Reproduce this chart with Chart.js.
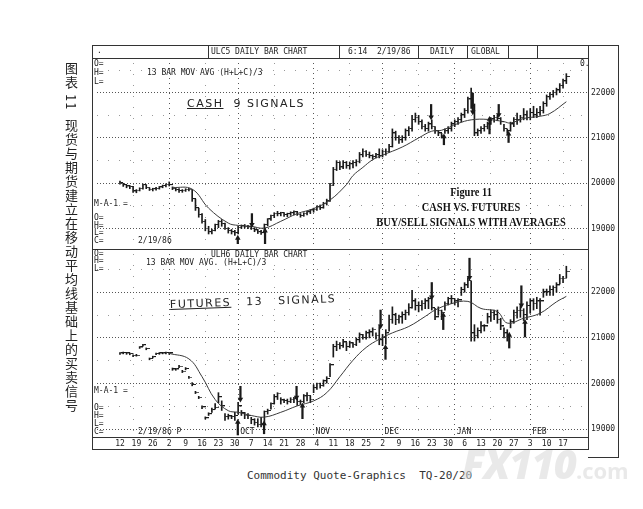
<!DOCTYPE html>
<html><head><meta charset="utf-8">
<script src="https://cdn.jsdelivr.net/npm/chart.js@4.4.1/dist/chart.umd.min.js"></script>
<style>
html,body{margin:0;padding:0;background:#fff;}
#wrap{position:relative;width:643px;height:509px;overflow:hidden;background:#fff;font-family:'DejaVu Sans Mono',monospace;color:#1a1a1a;}
.t{position:absolute;font-size:8px;line-height:8px;white-space:pre;color:#222;}
.ln{position:absolute;background:#333;}
canvas{position:absolute;}
.hw{position:absolute;font-family:'DejaVu Sans',sans-serif;font-size:11px;letter-spacing:1.5px;color:#222;white-space:pre;}
.fig{position:absolute;font-family:'Liberation Serif',serif;font-weight:bold;font-size:13px;line-height:14px;color:#111;white-space:pre;text-align:center;width:260px;transform:scaleX(0.8);transform-origin:center;}
</style></head><body><div id="wrap">
<canvas id="c1" width="526" height="191" style="left:92px;top:58px"></canvas>
<canvas id="c2" width="526" height="200" style="left:92px;top:249px"></canvas>

<!-- frame -->
<div class="ln" style="left:92px;top:45px;width:527px;height:1px"></div>
<div class="ln" style="left:92px;top:45px;width:1px;height:405px"></div>
<div class="ln" style="left:618px;top:45px;width:1px;height:413px"></div>
<div class="ln" style="left:588px;top:457px;width:31px;height:1px"></div>
<div class="ln" style="left:588px;top:45px;width:1px;height:405px"></div>
<div class="ln" style="left:92px;top:58px;width:497px;height:1px"></div>
<div class="ln" style="left:92px;top:249px;width:497px;height:1px"></div>
<div class="ln" style="left:92px;top:437px;width:497px;height:1px"></div>
<div class="ln" style="left:92px;top:449px;width:497px;height:1px"></div>
<div class="ln" style="left:208px;top:45px;width:1px;height:13px"></div>
<div class="ln" style="left:339px;top:45px;width:1px;height:13px"></div>
<div class="ln" style="left:418px;top:45px;width:1px;height:13px"></div>
<div class="ln" style="left:467px;top:45px;width:1px;height:13px"></div>
<div class="ln" style="left:508px;top:45px;width:1px;height:13px"></div>
<div class="ln" style="left:537px;top:45px;width:1px;height:13px"></div>

<!-- header -->
<div class="t" style="left:97px;top:47px">.</div>
<div class="t" style="left:211px;top:48px">ULC5 DAILY BAR CHART</div>
<div class="t" style="left:348px;top:48px">6:14  2/19/86</div>
<div class="t" style="left:430px;top:48px">DAILY</div>
<div class="t" style="left:471px;top:48px">GLOBAL</div>

<!-- top panel labels -->
<div class="t" style="left:94px;top:60px">O=</div>
<div class="t" style="left:94px;top:69px">H=</div>
<div class="t" style="left:94px;top:78px">L=</div>
<div class="t" style="left:147px;top:69px">13 BAR MOV AVG (H+L+C)/3</div>
<div class="t" style="left:580px;top:60px">0.</div>
<div class="t" style="left:94px;top:200px">M-A-1 =</div>
<div class="t" style="left:94px;top:214px">O=</div>
<div class="t" style="left:94px;top:222px">H=</div>
<div class="t" style="left:94px;top:229px">L=</div>
<div class="t" style="left:94px;top:237px">C=</div>
<div class="t" style="left:138px;top:237px">2/19/86</div>

<!-- bottom panel labels -->
<div class="t" style="left:94px;top:250px">O=</div>
<div class="t" style="left:94px;top:257px">H=</div>
<div class="t" style="left:94px;top:265px">L=</div>
<div class="t" style="left:211px;top:251px">ULH6 DAILY BAR CHART</div>
<div class="t" style="left:146px;top:259px">13 BAR MOV AVG. (H+L+C)/3</div>
<div class="t" style="left:94px;top:387px">M-A-1 =</div>
<div class="t" style="left:94px;top:404px">O=</div>
<div class="t" style="left:94px;top:412px">H=</div>
<div class="t" style="left:94px;top:420px">L=</div>
<div class="t" style="left:94px;top:428px">C=</div>
<div class="t" style="left:138px;top:428px">2/19/86 P</div>

<!-- handwritten notes -->
<div class="hw" style="left:187px;top:97px"><span style="text-decoration:underline">CASH</span>  9 SIGNALS</div>
<div class="hw" style="left:170px;top:298px;transform:rotate(-2deg);transform-origin:left center"><span style="text-decoration:underline">FUTURES</span>   13   SIGNALS</div>

<!-- figure caption -->
<div class="fig" style="left:341px;top:185px">Figure 11</div>
<div class="fig" style="left:341px;top:200px">CASH VS. FUTURES</div>
<div class="fig" style="left:341px;top:215px">BUY/SELL SIGNALS WITH AVERAGES</div>

<!-- Chinese vertical caption -->
<div style="position:absolute;left:62px;top:62px;writing-mode:vertical-rl;font-family:'Noto Sans CJK SC',sans-serif;font-size:13px;letter-spacing:1px;color:#222;white-space:pre;">图表 11  现货与期货建立在移动平均线基础上的买卖信号</div>

<div style="position:absolute;left:247px;top:469px;font-family:'DejaVu Sans Mono',monospace;font-size:11px;color:#333;white-space:pre;">Commodity Quote-Graphics  TQ-20/20</div>

<div style="position:absolute;left:462px;top:436px;font-family:'Open Sans',sans-serif;font-weight:800;font-style:italic;font-size:40px;color:rgba(215,215,215,0.55);white-space:pre;letter-spacing:-1px;">FX110<span style="font-size:22px;font-style:normal;font-weight:700;letter-spacing:0">.com</span></div>
</div>
<script>
// ---------- axis / tick data ----------
const weekLabels = ['12','19','26','2','9','16','23','30','7','14','21','28','4','11','18','25','2','9','16','23','30','6','13','20','27','3','10','17'];
const weekDays = [0,5,10,15,20,25,30,35,40,45,50,55,60,65,70,75,80,85,90,95,100,105,110,115,120,125,130,135];
const monthNames = ['OCT','NOV','DEC','JAN','FEB'];
const monthDays = [36,59,80,102,125];
const gridMonthDays = [15,36,59,80,102,125];
const gridHalfDays = [4,26,47,70,91,113,135];
const yTicks = [19000,19500,20000,20500,21000,21500,22000,22500];

// ---------- CASH (top panel) ----------
const cashHigh = [20050,20000,19960,19950,19930,19860,19900,19980,19970,19900,19890,19910,19930,19960,19990,20030,19920,19900,19880,19860,19880,19890,19860,19650,19450,19330,19200,19050,18990,19100,19180,19200,19120,19020,18980,18960,19050,19080,19090,19070,19060,19020,18980,18960,19100,19220,19300,19350,19380,19360,19350,19340,19370,19390,19380,19330,19350,19380,19420,19450,19500,19520,19580,19650,20000,20350,20500,20480,20500,20480,20470,20500,20520,20680,20760,20720,20690,20630,20660,20760,20740,20760,20860,21200,21150,21050,21050,21200,21250,21500,21550,21500,21400,21300,21350,21400,21250,21150,21100,21200,21250,21350,21400,21450,21550,21650,21900,22100,21750,21200,21250,21300,21350,21450,21500,21500,21450,21300,21200,21350,21450,21550,21500,21650,21600,21650,21700,21650,21700,21800,21950,22000,22050,22100,22200,22300,22420];
const cashLow = [19980,19930,19900,19880,19800,19790,19830,19870,19880,19840,19830,19850,19870,19900,19920,19940,19860,19830,19800,19800,19820,19830,19600,19400,19250,19120,18950,18880,18880,18950,19020,19050,18980,18900,18880,18850,18880,19000,19010,19000,18980,18930,18890,18870,18960,19060,19180,19240,19280,19280,19270,19260,19290,19300,19290,19250,19270,19300,19330,19360,19400,19420,19450,19520,19600,19950,20280,20300,20320,20330,20310,20340,20380,20450,20580,20590,20560,20530,20560,20560,20580,20620,20680,20800,20950,20880,20900,20950,21050,21150,21350,21300,21200,21150,21150,21200,21100,21050,21000,21100,21100,21150,21250,21300,21350,21450,21550,21650,21050,21050,21100,21150,21200,21300,21350,21380,21300,21150,21100,21150,21250,21300,21350,21400,21400,21400,21450,21450,21500,21550,21700,21850,21900,21950,22000,22100,22200];
const cashClose = [20000,19960,19930,19920,19820,19840,19880,19960,19900,19860,19870,19880,19910,19940,19970,19960,19880,19850,19830,19840,19860,19860,19650,19450,19300,19150,19000,18920,18950,19080,19150,19100,19000,18950,18920,18900,19020,19050,19040,19030,19000,18960,18920,18900,19080,19200,19280,19330,19320,19340,19300,19320,19340,19360,19310,19280,19330,19360,19400,19420,19470,19450,19550,19600,19950,20300,20450,20350,20450,20380,20420,20450,20480,20620,20700,20630,20600,20580,20620,20600,20700,20700,20800,21100,21000,20950,21000,21150,21200,21400,21450,21350,21250,21200,21300,21250,21150,21100,21050,21150,21200,21300,21350,21400,21500,21600,21850,21700,21100,21150,21200,21250,21300,21420,21450,21420,21350,21200,21150,21300,21400,21400,21450,21500,21450,21550,21500,21550,21600,21750,21900,21950,22000,22050,22150,22250,22350];
const cashMaDay = [16,22,27,33,36,40,44,49,54,59,64,69,71,74,77,80,86,91,95,98,103,107,112,117,119,123,128,131,136];
const cashMaVal = [19910,19870,19450,19120,19070,19050,19010,19160,19330,19440,19630,19970,20170,20350,20520,20620,20800,21000,21150,21170,21320,21400,21410,21360,21330,21430,21480,21540,21800];
const cashSellDay = [40.2,94.8,107.5,115.4];
const cashSellTail = [19330,21740,21990,21740];
const cashSellTip = [19090,21460,21570,21510];
const cashBuyDay = [35.9,44.2,98.7,112.6,118.4];
const cashBuyTip = [18790,18950,21030,21415,21090];
const cashBuyTail = [18660,18660,20850,21090,20900];

// ---------- FUTURES (bottom panel) ----------
const futHigh = [20680,20690,20680,20670,20630,20640,20810,20860,20780,20560,20600,20670,20680,20680,20690,20680,20340,20330,20400,20290,20350,20160,20020,19830,19720,19510,19270,19360,19460,19560,19800,19620,19340,19330,19300,19370,19590,19410,19370,19340,19260,19230,19230,19260,19400,19440,19580,19760,19800,19690,19660,19660,19690,19700,19680,19640,19760,19800,19730,19970,20010,20010,20080,20150,20440,20860,20930,20900,20970,20900,20930,20900,21000,21110,21080,21150,21180,21220,21110,21250,21080,21180,21500,21680,21540,21500,21570,21610,21750,22040,21860,21790,21820,21860,21890,21860,21650,21680,21610,21790,21890,21930,21860,21860,22110,22210,22320,22250,21290,21220,21360,21290,21540,21610,21610,21610,21430,21220,21180,21400,21610,21680,21700,21640,21790,21860,21860,21890,21860,22070,22070,22140,22140,22210,22390,22350,22570];
const futLow = [20640,20650,20640,20630,20590,20600,20770,20820,20740,20520,20560,20630,20640,20650,20650,20640,20290,20290,20350,20240,20300,20110,19950,19780,19670,19450,19220,19300,19370,19440,19580,19410,19190,19220,19230,19190,19330,19300,19230,19230,19120,19090,19050,19050,19090,19330,19440,19550,19650,19550,19580,19550,19580,19580,19520,19540,19580,19620,19580,19800,19870,19900,19940,20010,20150,20580,20720,20760,20790,20720,20790,20790,20830,20900,20970,20970,21000,21040,20970,20850,20830,20860,21150,21320,21290,21320,21320,21400,21500,21650,21610,21570,21610,21640,21640,21610,21400,21500,21400,21610,21720,21750,21720,21680,21930,22000,22100,20930,20930,21000,21110,21150,21320,21360,21400,21320,21180,21000,20930,21220,21320,21430,21450,21380,21400,21540,21610,21640,21500,21890,21930,21930,21930,22000,22180,22210,22320];
const futClose = [20660,20670,20660,20650,20610,20610,20790,20840,20760,20540,20580,20650,20660,20660,20670,20660,20310,20310,20370,20260,20320,20130,19970,19800,19690,19480,19240,19330,19420,19470,19700,19500,19270,19280,19270,19290,19500,19350,19300,19290,19200,19140,19100,19120,19380,19400,19550,19700,19780,19630,19620,19600,19650,19660,19600,19600,19720,19730,19650,19900,20000,19950,20050,20100,20400,20800,20850,20820,20900,20800,20880,20850,20950,21060,21000,21100,21120,21180,21050,20950,21000,21100,21400,21500,21400,21450,21500,21550,21650,21800,21700,21700,21750,21800,21850,21650,21450,21600,21550,21750,21850,21850,21800,21820,22050,22150,22250,21100,21050,21150,21250,21250,21450,21550,21500,21400,21250,21100,21050,21350,21550,21600,21600,21500,21700,21800,21750,21800,21800,22000,22000,22050,22100,22150,22300,22300,22450];
const futMaDay = [15,21,25,29,33,36,40,44,49,54,59,63,67,71,75,79,83,88,93,96,101,106,110,115,118,123,128,133,136];
const futMaVal = [20660,20540,20150,19650,19405,19370,19300,19265,19370,19510,19620,19800,20150,20510,20790,20970,21110,21250,21470,21610,21750,21800,21645,21575,21325,21430,21540,21790,21910];
const futSellDay = [36.7,53.8,79.4,95.0,106.5,122.3];
const futSellTail = [19940,19940,21610,22213,22746,22142];
const futSellTip = [19655,19700,21260,21893,22320,21716];
const futBuyDay = [35.9,43.9,55.6,80.9,98.5,118.6,123.4];
const futBuyTip = [19157,19120,19510,20790,21500,21062,21346];
const futBuyTail = [18873,18900,19230,20530,21183,20778,21020];

// ---------- chart builders ----------
const INK = '#1a1a1a';
function tickImage(){
  const c = document.createElement('canvas'); c.width = 7; c.height = 2;
  const g = c.getContext('2d'); g.fillStyle = INK; g.fillRect(4,0,3,1); return c;
}
const closeTick = tickImage();

function datasets(H, L, C, maD, maV, sD, sTail, sTip, bD, bTip, bTail){
  return [
    {type:'bar', data:H.map((h,i)=>({x:i, y:[L[i], h]})), backgroundColor:INK, barThickness:1, grouped:false, order:3},
    {type:'scatter', data:C.map((c,i)=>({x:i, y:c})), pointStyle:closeTick, pointRadius:2, order:2},
    {type:'line', data:maD.map((d,i)=>({x:d, y:maV[i]})), borderColor:'#3a3a3a', borderWidth:1, pointRadius:0, tension:0.4, fill:false, order:1},
    {type:'bar', data:sD.map((d,i)=>({x:d, y:[sTip[i], sTail[i]]})), backgroundColor:INK, barThickness:1.6, grouped:false, order:0},
    {type:'bar', data:bD.map((d,i)=>({x:d, y:[bTip[i], bTail[i]]})), backgroundColor:INK, barThickness:1.6, grouped:false, order:0},
    {type:'scatter', data:sD.map((d,i)=>({x:d, y:sTip[i]})), pointStyle:'triangle', rotation:180, pointRadius:3.2, backgroundColor:INK, borderColor:INK, borderWidth:0, order:0},
    {type:'scatter', data:bD.map((d,i)=>({x:d, y:bTip[i]})), pointStyle:'triangle', rotation:0, pointRadius:3.2, backgroundColor:INK, borderColor:INK, borderWidth:0, order:0}
  ];
}

const isMonth = v => gridMonthDays.indexOf(v) >= 0;
function vGridAxis(extra){
  return Object.assign({
    type:'linear', min:-7, max:142.6, offset:false,
    ticks:{display:false},
    afterBuildTicks: ax => { ax.ticks = gridMonthDays.concat(gridHalfDays).map(v=>({value:v})); },
    afterFit: s => { s.height = 0; s.paddingLeft = 0; s.paddingRight = 0; },
    grid:{offset:false, drawTicks:false, lineWidth:1,
      color: ctx => (ctx.tick && isMonth(ctx.tick.value)) ? '#555' : '#999'},
    border:{display:false, dash: ctx => (ctx.tick && isMonth(ctx.tick.value)) ? [1,4] : [1,10]}
  }, extra || {});
}
function yAxis(min, max){
  return {
    type:'linear', position:'right', min:min, max:max, beginAtZero:false,
    afterBuildTicks: ax => { ax.ticks = yTicks.map(v=>({value:v})); },
    afterFit: s => { s.width = 30; s.paddingTop = 0; s.paddingBottom = 0; },
    ticks:{autoSkip:false, padding:3, color:'#222', font:{family:'DejaVu Sans Mono', size:8},
      callback: v => (v % 1000 === 0) ? String(v) : ''},
    grid:{drawTicks:false, lineWidth:1,
      color: ctx => (ctx.tick && ctx.tick.value % 1000 === 0) ? '#555' : '#999'},
    border:{display:false, dash: ctx => (ctx.tick && ctx.tick.value % 1000 === 0) ? [1,2] : [1,10]}
  };
}
const common = {
  responsive:false, animation:false, devicePixelRatio:1,
  layout:{padding:0},
  plugins:{legend:{display:false}, tooltip:{enabled:false}}
};

new Chart(document.getElementById('c1'), {
  type:'bar',
  data:{datasets: datasets(cashHigh, cashLow, cashClose, cashMaDay, cashMaVal, cashSellDay, cashSellTail, cashSellTip, cashBuyDay, cashBuyTip, cashBuyTail)},
  options: Object.assign({}, common, {
    scales:{ x: vGridAxis(), y: yAxis(18659, 22655) }
  })
});

const monthLabelPlugin = {
  id:'monthLabels',
  afterDatasetsDraw(chart){
    const g = chart.ctx, xs = chart.scales.x, a = chart.chartArea;
    g.save();
    g.font = '8px "DejaVu Sans Mono"'; g.fillStyle = '#222'; g.textBaseline = 'middle'; g.textAlign = 'left';
    monthDays.forEach((d,i) => { g.fillText(monthNames[i], xs.getPixelForValue(d) + 2, a.bottom - 5); });
    g.restore();
  }
};

new Chart(document.getElementById('c2'), {
  type:'bar',
  data:{datasets: datasets(futHigh, futLow, futClose, futMaDay, futMaVal, futSellDay, futSellTail, futSellTip, futBuyDay, futBuyTip, futBuyTail)},
  options: Object.assign({}, common, {
    scales:{
      x:{
        type:'linear', min:-7, max:142.6, offset:false, position:'bottom',
        afterBuildTicks: ax => { ax.ticks = weekDays.map(v=>({value:v})); },
        afterFit: s => { s.height = 12; s.paddingLeft = 0; s.paddingRight = 0; },
        ticks:{autoSkip:false, maxRotation:0, minRotation:0, padding:2, color:'#222',
          font:{family:'DejaVu Sans Mono', size:8},
          callback: (v, i) => weekLabels[i]},
        grid:{display:false, drawTicks:false},
        border:{display:false}
      },
      x2: vGridAxis({position:'bottom'}),
      y: yAxis(18829, 22838)
    }
  }),
  plugins:[monthLabelPlugin]
});
</script>
</body></html>
